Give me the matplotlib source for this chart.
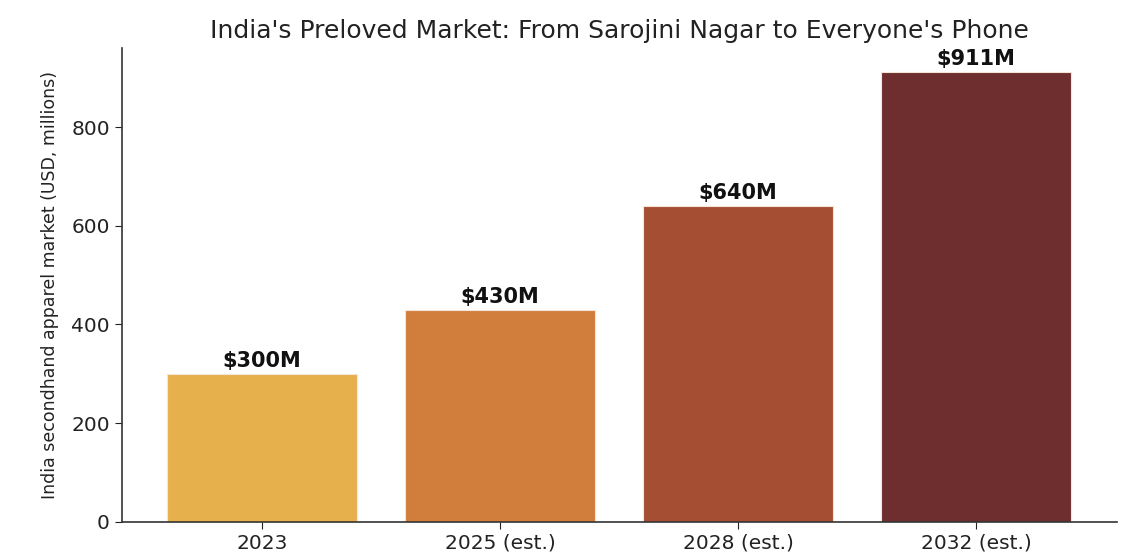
import matplotlib
matplotlib.use('Agg')
import matplotlib.pyplot as plt

# data
years = ['2023', '2025 (est.)', '2028 (est.)', '2032 (est.)']
market_musd = [300, 430, 640, 911]
bar_labels = ['$300M', '$430M', '$640M', '$911M']
bar_colors = ['#E6B04D', '#D17D3C', '#A54E33', '#6E2E2F']

fig = plt.figure(figsize=(11.32, 5.55), dpi=100)
ax = fig.add_axes([0.1075, 0.0595, 0.879, 0.854])

bars = ax.bar(range(len(years)), market_musd, width=0.8, color=bar_colors,
              edgecolor='#f3e6d8', linewidth=0.8)

for b, lab in zip(bars, bar_labels):
    ax.annotate(lab, (b.get_x() + b.get_width() / 2, b.get_height()),
                xytext=(0, 2), textcoords='offset points',
                ha='center', va='bottom', fontsize=15, fontweight='bold',
                color='#111111')

ax.set_xticks(range(len(years)))
ax.set_xticklabels(years)
ax.set_ylim(0, 960)
ax.set_yticks([0, 200, 400, 600, 800])
ax.tick_params(labelsize=14.5, colors='#222222', length=5)
ax.set_ylabel('India secondhand apparel market (USD, millions)', fontsize=12.5,
              color='#222222', labelpad=9)
ax.set_title("India's Preloved Market: From Sarojini Nagar to Everyone's Phone",
             fontsize=18, color='#222222', pad=7)

ax.spines['top'].set_visible(False)
ax.spines['right'].set_visible(False)
for s in ('left', 'bottom'):
    ax.spines[s].set_color('#333333')
    ax.spines[s].set_linewidth(1.2)

fig.savefig('out.png', dpi=100)
